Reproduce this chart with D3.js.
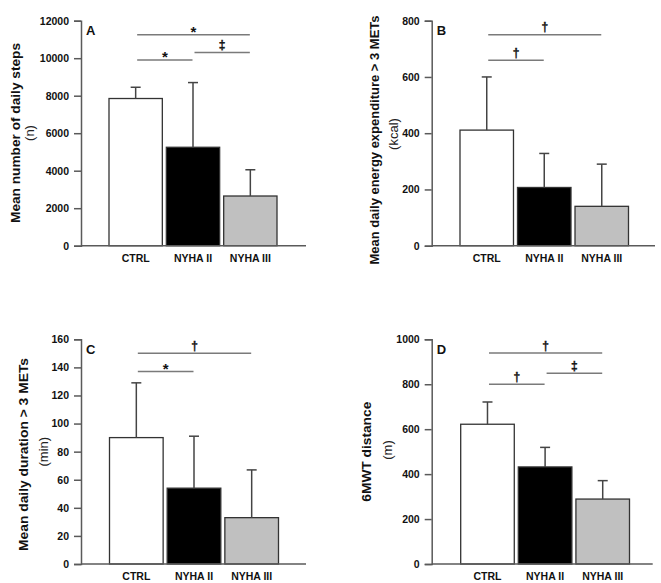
<!DOCTYPE html>
<html>
<head>
<meta charset="utf-8">
<script src="https://cdn.jsdelivr.net/npm/d3@7"></script>
<style>
  html, body { margin: 0; padding: 0; background: #fff; }
  svg { display: block; }
  svg text { font-family: "Liberation Sans", Arial, sans-serif; }
</style>
</head>
<body>
<svg id="chart" width="661" height="583"></svg>
<script>
// ---------------- data ----------------
const categories = ["CTRL", "NYHA II", "NYHA III"];

const stepsMean = [7850, 5250, 2650];
const stepsSD = [600, 3450, 1400];
const stepsTicks = [0, 2000, 4000, 6000, 8000, 10000, 12000];
const stepsSig = [[0, 2, "*", 11250], [0, 1, "*", 9900], [1, 2, "‡", 10300]];

const energyMean = [411, 207, 140];
const energySD = [189, 121, 150];
const energyTicks = [0, 200, 400, 600, 800];
const energySig = [[0, 2, "†", 750], [0, 1, "†", 659]];

const durationMean = [90, 54, 33];
const durationSD = [39, 37, 34];
const durationTicks = [0, 20, 40, 60, 80, 100, 120, 140, 160];
const durationSig = [[0, 2, "†", 150], [0, 1, "*", 137]];

const walkMean = [622, 432, 289];
const walkSD = [99, 87, 82];
const walkTicks = [0, 200, 400, 600, 800, 1000];
const walkSig = [[0, 2, "†", 939], [1, 2, "‡", 849], [0, 1, "†", 800]];

const panelLetters = ["A", "B", "C", "D"];
const yTitles = ["Mean number of daily steps", "Mean daily energy expenditure > 3 METs",
                 "Mean daily duration > 3 METs", "6MWT distance"];
const yUnits = ["(n)", "(kcal)", "(min)", "(m)"];
const barFills = ["#ffffff", "#000000", "#c0c0c0"];

// ---------------- layout ----------------
const FONT = "Liberation Sans, Arial, sans-serif";
const layouts = [
  { ax: 81,    top: 20.7,  bottom: 245.7, xEnd: 306,   band: [109, 277],     t1: 15,  t2: 29.5, tc: 133,   uc: 133,   tlen: 180 },
  { ax: 431.7, top: 20.7,  bottom: 245.7, xEnd: 655,   band: [460, 628.5],   t1: 374, t2: 393,  tc: 140,   uc: 134,   tlen: 249 },
  { ax: 81,    top: 339.3, bottom: 564,   xEnd: 306,   band: [109.5, 278.5], t1: 23,  t2: 43,   tc: 454.5, uc: 451.7, tlen: 193 },
  { ax: 431.7, top: 339.3, bottom: 564,   xEnd: 652.7, band: [460.7, 629.5], t1: 366, t2: 387,  tc: 451.7, uc: 450,   tlen: 100 }
];

const panels = [
  { mean: stepsMean, sd: stepsSD, ticks: stepsTicks, sig: stepsSig },
  { mean: energyMean, sd: energySD, ticks: energyTicks, sig: energySig },
  { mean: durationMean, sd: durationSD, ticks: durationTicks, sig: durationSig },
  { mean: walkMean, sd: walkSD, ticks: walkTicks, sig: walkSig }
];

const svg = d3.select("#chart");
const axisColor = "#5a5a5a";

panels.forEach((p, i) => {
  const L = layouts[i];
  const g = svg.append("g");
  const maxV = p.ticks[p.ticks.length - 1];
  const y = d3.scaleLinear().domain([0, maxV]).range([L.bottom, L.top]);
  const x = d3.scaleBand().domain(categories).range(L.band).paddingInner(0.07).paddingOuter(0);
  const cx = c => x(c) + x.bandwidth() / 2;

  // bars
  g.selectAll("rect.bar").data(categories).join("rect")
    .attr("x", c => x(c))
    .attr("width", x.bandwidth())
    .attr("y", (c, k) => y(p.mean[k]))
    .attr("height", (c, k) => y(0) - y(p.mean[k]))
    .attr("fill", (c, k) => barFills[k])
    .attr("stroke", "#333")
    .attr("stroke-width", 1.3);

  // error bars (upper only)
  const eb = g.selectAll("g.eb").data(categories).join("g");
  eb.append("line")
    .attr("x1", c => cx(c)).attr("x2", c => cx(c))
    .attr("y1", (c, k) => y(p.mean[k]))
    .attr("y2", (c, k) => y(p.mean[k] + p.sd[k]))
    .attr("stroke", "#444").attr("stroke-width", 1.5);
  eb.append("line")
    .attr("x1", c => cx(c) - 5).attr("x2", c => cx(c) + 5)
    .attr("y1", (c, k) => y(p.mean[k] + p.sd[k]))
    .attr("y2", (c, k) => y(p.mean[k] + p.sd[k]))
    .attr("stroke", "#444").attr("stroke-width", 1.5);

  // y axis
  const yAxis = d3.axisLeft(y).tickValues(p.ticks).tickFormat(d3.format("d"))
    .tickSize(7).tickPadding(5);
  const ya = g.append("g").attr("transform", `translate(${L.ax},0)`).call(yAxis);
  ya.attr("font-family", FONT);
  ya.select(".domain").attr("stroke", axisColor).attr("stroke-width", 1.5);
  ya.selectAll(".tick line").attr("stroke", axisColor).attr("stroke-width", 1.5);
  ya.selectAll(".tick text").attr("font-size", 10.5).attr("font-weight", "bold")
    .attr("fill", "#111").attr("font-family", FONT);

  // x axis line
  g.append("line")
    .attr("x1", L.ax).attr("x2", L.xEnd)
    .attr("y1", y(0)).attr("y2", y(0))
    .attr("stroke", axisColor).attr("stroke-width", 1.5);

  // category labels
  g.selectAll("text.cat").data(categories).join("text")
    .attr("x", c => cx(c)).attr("y", L.bottom + 16)
    .attr("text-anchor", "middle").attr("font-size", 10.5).attr("font-weight", "bold")
    .attr("font-family", FONT)
    .attr("fill", "#111").text(c => c);

  // panel letter
  g.append("text").attr("x", L.ax + 5).attr("y", L.top + 14.5)
    .attr("font-size", 13).attr("font-weight", "bold").attr("fill", "#111")
    .attr("font-family", FONT)
    .text(panelLetters[i]);

  // y titles
  g.append("text")
    .attr("transform", `translate(${L.t1},${L.tc}) rotate(-90)`)
    .attr("dy", "0.35em").attr("text-anchor", "middle")
    .attr("font-size", 13.6).attr("font-weight", "bold").attr("fill", "#111")
    .attr("font-family", FONT)
    .attr("textLength", L.tlen).attr("lengthAdjust", "spacingAndGlyphs")
    .text(yTitles[i]);
  g.append("text")
    .attr("transform", `translate(${L.t2},${L.uc}) rotate(-90)`)
    .attr("dy", "0.35em").attr("text-anchor", "middle")
    .attr("font-size", 13).attr("fill", "#222")
    .attr("font-family", FONT)
    .text(yUnits[i]);

  // significance brackets
  p.sig.forEach(s => {
    const [a, b, sym, lvl] = s;
    const x1 = cx(categories[a]) + 1.5;
    const x2 = cx(categories[b]) - 0.5;
    const yy = y(lvl);
    g.append("line").attr("x1", x1).attr("x2", x2).attr("y1", yy).attr("y2", yy)
      .attr("stroke", "#7a7a7a").attr("stroke-width", 1.5);
    const isStar = sym === "*";
    const tx = (x1 + x2) / 2;
    const ty = isStar ? yy + 2 : yy - 3.5;
    const t = g.append("text")
      .attr("x", tx)
      .attr("y", ty)
      .attr("text-anchor", "middle")
      .attr("fill", "#111")
      .text(sym);
    if (isStar) {
      t.attr("font-size", 15).attr("font-weight", "bold").attr("font-family", FONT);
    } else {
      t.attr("font-size", 12).attr("font-weight", "bold")
        .attr("font-family", "DejaVu Sans, sans-serif")
        .attr("stroke", "#111").attr("stroke-width", 0.35);
    }
  });
});
</script>
</body>
</html>
